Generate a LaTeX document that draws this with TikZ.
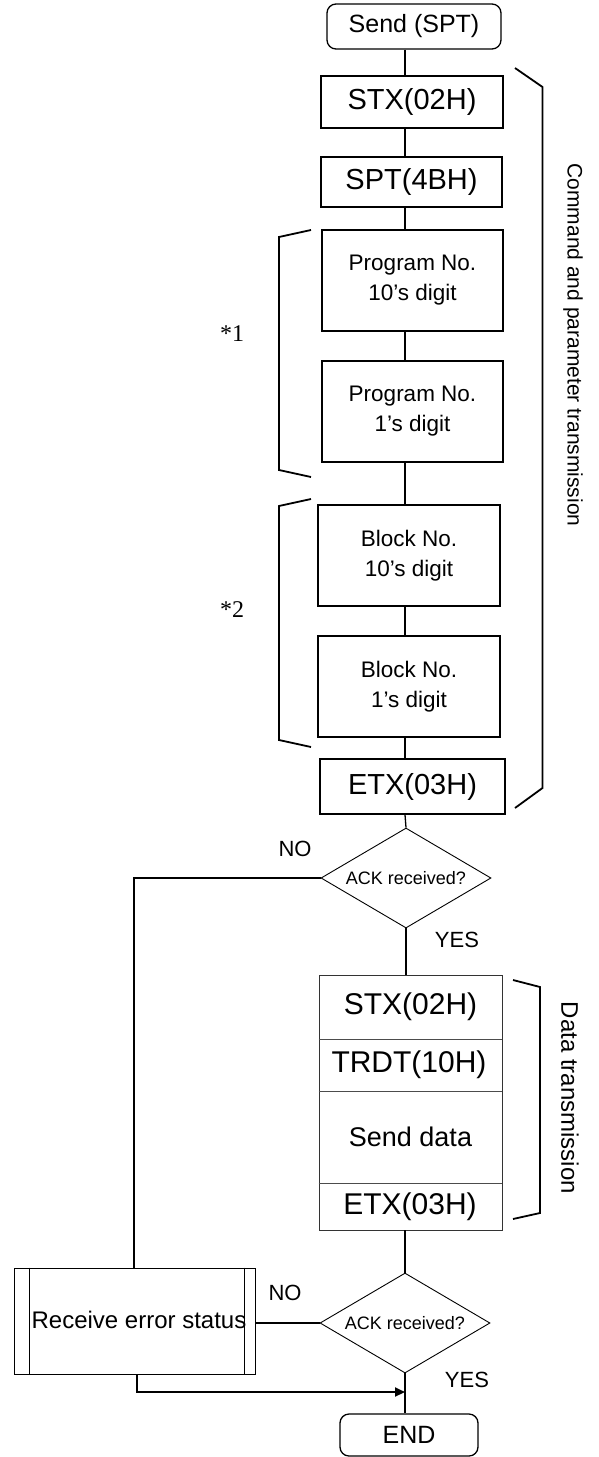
\documentclass[tikz,border=0pt]{standalone}
\usepackage{fontspec}
\setmainfont{Liberation Sans}
\newfontfamily\serifsym{Liberation Serif}
\usetikzlibrary{shapes.geometric,arrows.meta}
\begin{document}
\begin{tikzpicture}[x=1pt,y=-1pt,
  box/.style={draw,line width=1.3pt,inner sep=0pt,align=center},
  termbox/.style={box,rounded corners=9pt},
  thinbox/.style={draw,line width=0.9pt,inner sep=0pt},
  decision/.style={diamond,draw,line width=0.9pt,inner sep=0pt,minimum width=170pt,minimum height=100pt},
  conn/.style={line width=1.3pt},
  loopline/.style={line width=2pt},
  brace/.style={line width=1.8pt},
  big/.style={font=\fontsize{29}{34}\selectfont},
  mid/.style={font=\fontsize{22.5}{30}\selectfont,align=center},
  lbl/.style={font=\fontsize{22}{26}\selectfont},
  small/.style={font=\fontsize{18}{22}\selectfont},
]
\useasboundingbox (0,0) rectangle (598,1457);

% upper column
\node[termbox,minimum width=174pt,minimum height=45pt,font=\fontsize{25}{30}\selectfont] (send) at (414,26.5) {Send (SPT)};
\node[box,big,minimum width=182pt,minimum height=52pt] (stx1) at (412,102) {STX(02H)};
\node[box,big,minimum width=181pt,minimum height=50pt] (spt) at (411.5,182) {SPT(4BH)};
\node[box,mid,minimum width=181pt,minimum height=101pt] (p10) at (412.5,280.5) {Program No.\\10’s digit};
\node[box,mid,minimum width=181pt,minimum height=101pt] (p1) at (412.5,411.5) {Program No.\\1’s digit};
\node[box,mid,minimum width=182pt,minimum height=101pt] (b10) at (409,555.5) {Block No.\\10’s digit};
\node[box,mid,minimum width=182pt,minimum height=101pt] (b1) at (409,686.5) {Block No.\\1’s digit};
\node[box,big,minimum width=185pt,minimum height=55pt] (etx1) at (412.5,786.5) {ETX(03H)};

\node[decision] (d1) at (406,878) {};
\node[small] (d1t) at (d1.center) {ACK received?};

% data block
\node[thinbox,draw=black!80,minimum width=183pt,minimum height=255pt] (data) at (410.5,1102.5) {};
\coordinate (s1) at (0,1039);
\coordinate (s2) at (0,1091);
\coordinate (s3) at (0,1183);
\draw[line width=0.9pt,draw=black!70] (data.west |- s1) -- (data.east |- s1);
\draw[line width=0.9pt,draw=black!70] (data.west |- s2) -- (data.east |- s2);
\draw[line width=0.9pt,draw=black!70] (data.west |- s3) -- (data.east |- s3);
\node[big,font=\fontsize{30}{34}\selectfont] (dstx) at (410.5,1007) {STX(02H)};
\node[big,font=\fontsize{30}{34}\selectfont] (dtrdt) at (409,1065) {TRDT(10H)};
\node[font=\fontsize{27}{32}\selectfont] (dsend) at (410.5,1137) {Send data};
\node[big,font=\fontsize{30}{34}\selectfont] (detx) at (410,1206.5) {ETX(03H)};

\node[decision] (d2) at (405,1323) {};
\node[small] (d2t) at (d2.center) {ACK received?};

% error box
\node[thinbox,minimum width=240.5pt,minimum height=106pt] (err) at (134.75,1321) {};
\draw[line width=1.6pt] ([xshift=15.5pt]err.north west) -- ([xshift=15.5pt]err.south west);
\draw[line width=1.6pt] ([xshift=-11pt]err.north east) -- ([xshift=-11pt]err.south east);
\node[font=\fontsize{24}{28}\selectfont] (errt) at (139,1320) {Receive error status};

\node[termbox,minimum width=138pt,minimum height=42pt,font=\fontsize{25}{30}\selectfont] (end) at (409,1435) {END};

% connectors
\coordinate (L) at (405,0);
\draw[conn] (send.south -| L) -- (stx1.north -| L);
\draw[conn] (stx1.south -| L) -- (spt.north -| L);
\draw[conn] (spt.south -| L) -- (p10.north -| L);
\draw[conn] (p10.south -| L) -- (p1.north -| L);
\draw[conn] (p1.south -| L) -- (b10.north -| L);
\draw[conn] (b10.south -| L) -- (b1.north -| L);
\draw[conn] (b1.south -| L) -- (etx1.north -| L);
\draw[conn] (etx1.south -| L) -- (d1.north);
\draw[conn] (d1.south) -- (data.north -| d1.south);
\draw[conn] (data.south -| d2.north) -- (d2.north);
\draw[conn] (d2.south) -- (end.north -| d2.south);

\coordinate (LX) at (134,0);
\draw[loopline] (d1.west) -| (err.north -| LX);
\draw[loopline] (err.east |- d2.west) -- (d2.west);
\coordinate (EX) at (137,0);
\coordinate (J) at (405,1392);
\draw[loopline,-{Triangle[length=10pt,width=9pt]}] (err.south -| EX) |- (J);

% labels
\node[lbl] (no1) at (295,849) {NO};
\node[lbl] (yes1) at (457,940) {YES};
\node[lbl] (no2) at (285,1293) {NO};
\node[lbl] (yes2) at (467,1380) {YES};
\node[font=\serifsym\fontsize{24}{28}\selectfont] (n1) at (232,334) {*1};
\node[font=\serifsym\fontsize{24}{28}\selectfont] (n2) at (232,610) {*2};

% brackets
\draw[brace] (515,68) -- (542.5,87) -- (542.5,788) -- (515,808);
\node[rotate=-90,font=\fontsize{21}{25}\selectfont] (cmdt) at (573,345) {Command and parameter transmission};
\draw[brace] (513,980) -- (540,987) -- (540,1213) -- (513,1219);
\node[rotate=-90,font=\fontsize{24}{28}\selectfont] (datat) at (570,1098) {Data transmission};
\draw[brace] (311,230) -- (279,237) -- (279,470) -- (311,477);
\draw[brace] (311,499) -- (279,506) -- (279,740) -- (311,747);
\end{tikzpicture}
\end{document}
